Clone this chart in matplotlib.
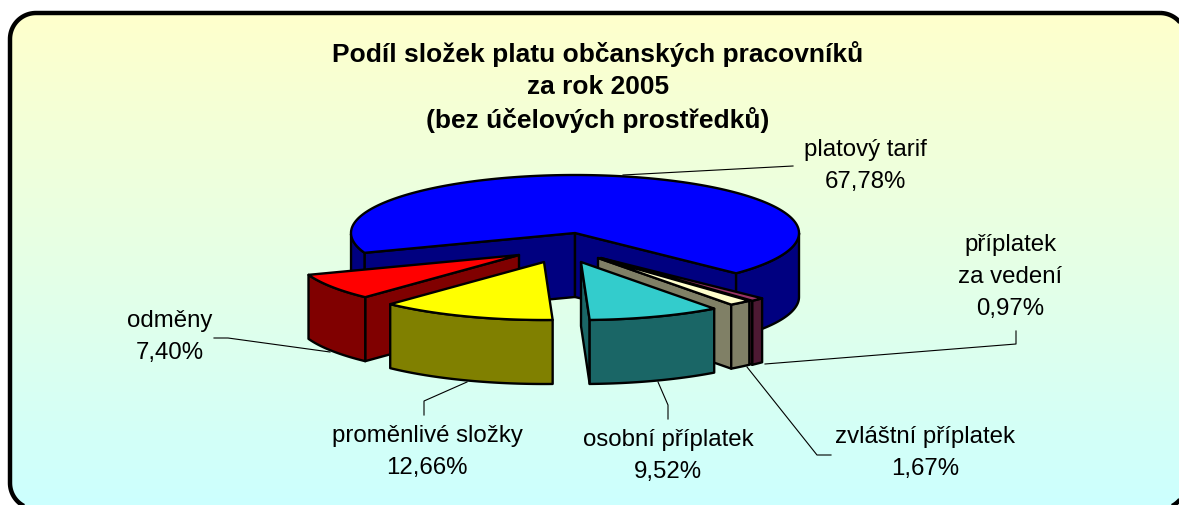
#!/usr/bin/env python3
# -*- coding: utf-8 -*-
"""Exploded 3D-look pie: salary components of civilian staff, 2005."""

import numpy as np
import matplotlib
matplotlib.use('Agg')
import matplotlib.pyplot as plt
import matplotlib.patches as mpatches

plt.rcParams['font.family'] = ['Liberation Sans', 'DejaVu Sans']

title_lines = ['Podíl složek platu občanských pracovníků', 'za rok 2005', '(bez účelových prostředků)']

# clockwise from the start angle
categories = ['platový tarif', 'příplatek\nza vedení', 'zvláštní příplatek',
              'osobní příplatek', 'proměnlivé složky', 'odměny']
values = [67.78, 0.97, 1.67, 9.52, 12.66, 7.40]

top_colors = ['#0000FF', '#993366', '#FFFFCC', '#33CCCC', '#FFFF00', '#FF0000']
side_colors = ['#000080', '#4D1933', '#808066', '#1A6666', '#808000', '#800000']

# apex of each slice in pixels
apex_x = [575, 601, 598, 581, 544, 519]
apex_y = [233, 258, 258, 262, 262, 255]
draw_order = [0, 1, 2, 5, 3, 4]

label_x = [865, 1010, 925, 668, 427, 170]
label_y = [150, 245, 437, 440, 436, 321]
leaders = [
    [(623, 175), (793, 166)],
    [(765, 364), (1016, 344), (1016, 331)],
    [(747, 367), (817, 455), (831, 455)],
    [(658, 382), (668, 405), (668, 419)],
    [(467, 382), (424, 401), (424, 415)],
    [(330, 352), (228, 338), (214, 338)],
]

RX, RY, DEPTH = 224, 58, 64
START_ANGLE = 200.0


def rim_point(cx, cy, a):
    t = np.radians(a)
    return cx + RX * np.cos(t), cy - RY * np.sin(t)


def rounded_frame(x0, y0, x1, y1, r):
    """Rounded rectangle as a plain polygon (y pointing down)."""
    pts = []
    corners = [(x1 - r, y0 + r, -90), (x1 - r, y1 - r, 0), (x0 + r, y1 - r, 90), (x0 + r, y0 + r, 180)]
    for cx, cy, a in corners:
        t = np.radians(np.linspace(a, a + 90, 25))
        pts.extend(zip(cx + r * np.cos(t), cy + r * np.sin(t)))
    return pts


def draw_slice(ax, cx, cy, a0, a1, top, side):
    """Slice running clockwise from a0 down to a1 (degrees)."""
    lw = 1.7
    ang = np.linspace(a0, a1, max(int(abs(a1 - a0)), 2) + 1)
    xs, ys = rim_point(cx, cy, ang)
    # radial faces, only those turned to the viewer
    for i, visible in ((0, np.cos(np.radians(a0)) < 0), (-1, np.cos(np.radians(a1)) > 0)):
        if not visible:
            continue
        pts = [(cx, cy), (xs[i], ys[i]), (xs[i], ys[i] + DEPTH), (cx, cy + DEPTH)]
        ax.add_patch(mpatches.Polygon(pts, closed=True, fc=side, ec='black', lw=lw, joinstyle='round'))
    # outer rim, only where it faces the viewer
    idx = np.where(np.sin(np.radians(ang)) <= 0)[0]
    if len(idx) > 1:
        for run in np.split(idx, np.where(np.diff(idx) > 1)[0] + 1):
            if len(run) < 2:
                continue
            rx, ry = xs[run], ys[run]
            pts = list(zip(rx, ry)) + list(zip(rx[::-1], ry[::-1] + DEPTH))
            ax.add_patch(mpatches.Polygon(pts, closed=True, fc=side, ec='black', lw=lw, joinstyle='round'))
    pts = [(cx, cy)] + list(zip(xs, ys))
    ax.add_patch(mpatches.Polygon(pts, closed=True, fc=top, ec='black', lw=lw, joinstyle='round'))


def main():
    fig = plt.figure(figsize=(11.79, 5.05), dpi=100)
    ax = fig.add_axes([0, 0, 1, 1])
    ax.set_xlim(0, 1179)
    ax.set_ylim(505, 0)
    ax.axis('off')

    # frame with vertical gradient
    frame = mpatches.Polygon(rounded_frame(10, 13, 1186, 509, 26), closed=True,
                             fc='none', ec='black', lw=3.2, zorder=3)
    ax.add_patch(frame)
    c_top = np.array([1.0, 1.0, 0.8])
    c_bot = np.array([0.8, 1.0, 1.0])
    t = np.linspace(0, 1, 256)[:, None, None]
    grad = c_top * (1 - t) + c_bot * t
    im = ax.imshow(grad, extent=(10, 1186, 509, 13), aspect='auto', zorder=0)
    im.set_clip_path(frame)
    ax.set_xlim(0, 1179)
    ax.set_ylim(505, 0)

    for i, line in enumerate(title_lines):
        ax.text(598, 54 + i * 33, line, ha='center', va='center', fontsize=19,
                fontweight='bold', color='black', zorder=5)

    # slice angles from the values
    total = sum(values)
    ends = START_ANGLE - np.cumsum(values) / total * 360.0
    starts = np.concatenate(([START_ANGLE], ends[:-1]))

    for path in leaders:
        px, py = zip(*path)
        ax.plot(px, py, color='black', lw=0.8, zorder=1)

    for i in draw_order:
        draw_slice(ax, apex_x[i], apex_y[i], starts[i], ends[i], top_colors[i], side_colors[i])

    for name, v, x, y in zip(categories, values, label_x, label_y):
        pct = f'{v:.2f}'.replace('.', ',') + '%'
        lines = name.split('\n') + [pct]
        for j, line in enumerate(lines):
            ax.text(x, y + j * 32, line, ha='center', va='center', fontsize=17.3,
                    color='black', zorder=5)

    fig.savefig('out.png', dpi=100)
    plt.close(fig)


if __name__ == '__main__':
    main()
